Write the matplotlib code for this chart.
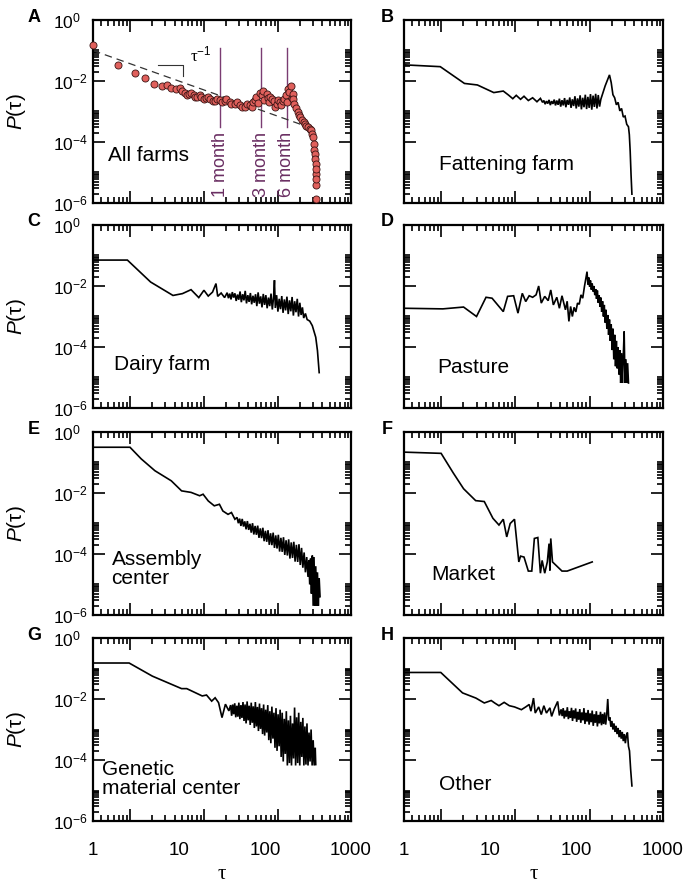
import numpy as np
import matplotlib
matplotlib.use("Agg")
import matplotlib.pyplot as plt
import matplotlib.ticker as mticker
import matplotlib.transforms as mtrans

plt.rcParams["font.family"] = ["Liberation Sans", "DejaVu Sans"]
plt.rcParams["mathtext.fontset"] = "custom"
plt.rcParams["mathtext.rm"] = "Liberation Sans"
plt.rcParams["mathtext.it"] = "Liberation Sans:italic"
plt.rcParams["mathtext.bf"] = "Liberation Sans:bold"

OUT = "out.png"

# values, stored as log10(tau) / log10(P)
A_LOGT = [0.00, 0.29, 0.49, 0.60, 0.71, 0.80, 0.86, 0.91, 0.97, 1.01, 1.07, 1.12, 1.17, 1.21,
          1.26, 1.31, 1.36, 1.42, 1.48, 1.53, 1.59, 1.65, 1.71, 1.77, 1.83, 1.86, 1.90, 1.94,
          1.98, 2.02, 2.06, 2.10, 2.14, 2.17, 2.21, 2.24, 2.27, 2.30, 2.32, 2.34, 2.38, 2.41,
          2.45, 2.48, 2.52, 2.55, 2.57, 2.58, 2.59, 2.59, 2.59, 2.59,
          1.04, 1.09, 1.14, 1.19, 1.24, 1.29, 1.34, 1.39, 1.44, 1.50, 1.55, 1.61, 1.67, 1.73,
          1.79, 1.85, 1.88, 1.92, 1.96, 1.99, 2.03, 2.05, 2.08, 2.12, 2.15, 2.19, 2.22, 2.25,
          2.28, 2.31, 2.33, 2.36, 2.40, 2.43, 2.47, 2.50, 2.53, 2.56, 2.575, 2.585, 2.59, 2.59]
A_LOGP = [-0.82, -1.48, -1.74, -1.89, -2.11, -2.18, -2.14, -2.22, -2.25, -2.22, -2.40, -2.44,
          -2.47, -2.51, -2.53, -2.56, -2.59, -2.64, -2.62, -2.66, -2.69, -2.75, -2.80, -2.84,
          -2.80, -2.69, -2.53, -2.40, -2.33, -2.42, -2.53, -2.64, -2.75, -2.69, -2.64, -2.47,
          -2.25, -2.18, -2.42, -2.75, -3.02, -3.19, -3.35, -3.46, -3.57, -3.74, -4.07, -4.40,
          -4.73, -5.05, -5.42, -5.88,
          -2.33, -2.45, -2.39, -2.52, -2.46, -2.60, -2.52, -2.66, -2.58, -2.70, -2.60, -2.74,
          -2.68, -2.86, -2.76, -2.85, -2.62, -2.72, -2.45, -2.62, -2.55, -2.70, -2.58, -2.85,
          -2.62, -2.80, -2.58, -2.70, -2.35, -2.55, -2.60, -2.90, -3.10, -3.28, -3.40, -3.52,
          -3.62, -3.85, -4.25, -4.55, -4.90, -5.20]

B_LOGT = [0.00, 0.42, 0.70, 0.85, 1.04, 1.15, 1.21, 1.26, 1.30, 1.35, 1.39, 1.44, 1.49, 1.54,
          1.58, 1.605,
          1.620, 1.635, 1.650, 1.665, 1.680, 1.695, 1.710, 1.725, 1.740, 1.755, 1.770, 1.785,
          1.800, 1.815, 1.830, 1.845, 1.860, 1.875, 1.890, 1.905, 1.920, 1.935, 1.950, 1.965,
          1.980, 1.995, 2.010, 2.025, 2.040, 2.055, 2.070, 2.085, 2.100, 2.115, 2.130, 2.145,
          2.160, 2.175, 2.190, 2.205, 2.220, 2.235, 2.250, 2.265,
          2.28, 2.33, 2.38, 2.40, 2.42, 2.44, 2.46, 2.48, 2.50, 2.52, 2.54, 2.56, 2.58, 2.60,
          2.61, 2.62, 2.63, 2.64]
B_LOGP = [-1.47, -1.53, -2.08, -2.13, -2.38, -2.33, -2.46, -2.58, -2.47, -2.60, -2.50, -2.64,
          -2.55, -2.68, -2.57, -2.70,
          -2.64, -2.76, -2.66, -2.74, -2.62, -2.79, -2.66, -2.75, -2.61, -2.80, -2.64, -2.78,
          -2.58, -2.84, -2.63, -2.80, -2.56, -2.86, -2.62, -2.78, -2.54, -2.88, -2.60, -2.82,
          -2.50, -2.90, -2.57, -2.84, -2.47, -2.93, -2.55, -2.86, -2.45, -2.92, -2.52, -2.88,
          -2.43, -2.94, -2.48, -2.85, -2.42, -2.90, -2.46, -2.84,
          -2.60, -2.16, -1.80, -2.05, -2.45, -2.55, -2.78, -2.70, -2.98, -2.90, -3.18, -3.15,
          -3.42, -3.50, -3.76, -4.31, -5.08, -5.71]

C_LOGT = [0.00, 0.40, 0.67, 0.93, 1.04, 1.14, 1.23, 1.29, 1.34, 1.39, 1.43, 1.45, 1.49, 1.53,
          1.560, 1.575, 1.590, 1.605, 1.620, 1.635, 1.650, 1.665, 1.680, 1.695, 1.710, 1.725,
          1.740, 1.755, 1.770, 1.785, 1.800, 1.815, 1.830, 1.845, 1.860, 1.875, 1.890, 1.905,
          1.920, 1.935, 1.950, 1.965, 1.980, 1.995, 2.010, 2.025, 2.040, 2.055, 2.070, 2.085,
          2.100, 2.110, 2.120, 2.135, 2.150, 2.165, 2.180, 2.195, 2.210, 2.225, 2.240, 2.255,
          2.270, 2.285, 2.300, 2.315, 2.330, 2.345, 2.360, 2.375, 2.390, 2.405, 2.420, 2.435,
          2.450, 2.47, 2.49, 2.52, 2.55, 2.59, 2.61, 2.63]
C_LOGP = [-1.15, -1.15, -1.87, -2.31, -2.25, -2.12, -2.38, -2.14, -2.33, -2.20, -1.92, -2.34,
          -2.23, -2.38,
          -2.22, -2.40, -2.25, -2.44, -2.20, -2.38, -2.24, -2.49, -2.28, -2.45, -2.18, -2.53,
          -2.27, -2.47, -2.16, -2.57, -2.30, -2.52, -2.23, -2.60, -2.32, -2.55, -2.27, -2.66,
          -2.21, -2.58, -2.34, -2.70, -2.26, -2.62, -2.30, -2.73, -2.38, -2.66, -2.25, -2.77,
          -2.36, -1.81, -2.72, -2.30, -2.84, -2.42, -2.76, -2.33, -2.88, -2.44, -2.80, -2.35,
          -2.92, -2.47, -2.83, -2.36, -2.97, -2.50, -2.86, -2.42, -3.00, -2.55, -2.95, -2.70,
          -3.05, -2.90, -3.10, -3.15, -3.30, -3.68, -4.12, -4.84]

D_LOGT = [0.00, 0.45, 0.69, 0.84, 0.95, 1.02, 1.15, 1.20, 1.27, 1.32, 1.37, 1.41, 1.45, 1.49,
          1.53, 1.56, 1.59, 1.63, 1.67, 1.70, 1.73, 1.77, 1.80, 1.83, 1.87, 1.89, 1.91, 1.93,
          1.95, 1.97, 1.99, 2.01, 2.03, 2.05, 2.07, 2.09, 2.12, 2.13, 2.14, 2.15, 2.16, 2.17,
          2.18, 2.19, 2.20, 2.21, 2.22, 2.23, 2.24, 2.25, 2.26, 2.27, 2.28, 2.29, 2.30, 2.31,
          2.32, 2.33, 2.34, 2.35, 2.36, 2.37, 2.38, 2.39, 2.40, 2.41, 2.42, 2.43, 2.44, 2.45,
          2.46, 2.47, 2.48, 2.49, 2.50, 2.51, 2.52, 2.53, 2.54, 2.55, 2.56, 2.57, 2.58, 2.59,
          2.60]
D_LOGP = [-2.73, -2.75, -2.69, -3.00, -2.37, -2.40, -2.84, -2.34, -2.32, -2.89, -2.24, -2.51,
          -2.32, -2.37, -2.29, -2.00, -2.56, -2.34, -2.48, -2.13, -2.62, -2.37, -2.73, -2.32,
          -2.78, -2.50, -3.16, -2.67, -3.00, -2.70, -2.85, -2.56, -2.60, -2.29, -2.40, -2.02,
          -1.53, -1.95, -1.72, -2.02, -1.82, -2.12, -1.92, -2.18, -2.00, -2.30, -2.10, -2.42,
          -2.15, -2.55, -2.30, -2.68, -2.38, -2.85, -2.50, -3.00, -2.62, -3.20, -2.78, -3.40,
          -2.95, -3.60, -3.10, -3.80, -3.25, -4.10, -3.40, -4.40, -3.60, -4.63, -3.80, -4.70,
          -4.00, -4.90, -4.10, -5.18, -4.20, -5.18, -4.31, -3.49, -5.18, -4.40, -5.18, -4.53,
          -5.18]

E_LOGT = [0.00, 0.43, 0.56, 0.72, 0.91, 1.03, 1.14, 1.24, 1.28, 1.34, 1.41, 1.47, 1.51, 1.57,
          1.61, 1.65,
          1.675, 1.690, 1.705, 1.720, 1.735, 1.750, 1.765, 1.780, 1.795, 1.810, 1.825, 1.840,
          1.855, 1.870, 1.885, 1.900, 1.915, 1.930, 1.945, 1.960, 1.975, 1.990, 2.005, 2.020,
          2.035, 2.050, 2.065, 2.080, 2.095, 2.110, 2.125, 2.140, 2.155, 2.170, 2.185, 2.200,
          2.215, 2.230, 2.245, 2.260, 2.275, 2.290, 2.305, 2.320, 2.335, 2.350, 2.365, 2.380,
          2.395, 2.410, 2.425, 2.440, 2.455, 2.470, 2.485, 2.500, 2.510, 2.520, 2.530, 2.540,
          2.550, 2.560, 2.570, 2.580, 2.590, 2.600, 2.610, 2.620, 2.630, 2.640]
E_LOGP = [-0.50, -0.50, -0.88, -1.27, -1.60, -1.93, -1.98, -2.09, -2.04, -2.26, -2.42, -2.37,
          -2.59, -2.70, -2.64, -2.86,
          -2.80, -2.99, -2.84, -3.08, -2.85, -3.10, -2.93, -3.19, -2.92, -3.21, -3.01, -3.30,
          -2.99, -3.36, -3.08, -3.37, -3.07, -3.47, -3.16, -3.48, -3.14, -3.58, -3.24, -3.60,
          -3.22, -3.70, -3.32, -3.71, -3.30, -3.80, -3.39, -3.82, -3.37, -3.92, -3.47, -3.93,
          -3.45, -4.03, -3.55, -4.05, -3.52, -4.15, -3.62, -4.13, -3.60, -4.25, -3.70, -4.26,
          -3.68, -4.36, -3.80, -4.45, -3.95, -4.60, -4.10, -4.75, -4.20, -5.00, -4.15, -5.30,
          -4.05, -5.70, -4.10, -5.70, -4.40, -5.70, -4.60, -5.70, -4.80, -5.40]

F_LOGT = [0.00, 0.43, 0.57, 0.69, 0.83, 0.93, 1.03, 1.10, 1.15, 1.19, 1.23, 1.28, 1.33, 1.35,
          1.39, 1.44, 1.48, 1.51, 1.55, 1.58, 1.60, 1.63, 1.66, 1.68, 1.69, 1.70, 1.72, 1.83,
          1.89, 2.18]
F_LOGP = [-0.66, -0.70, -1.34, -1.86, -2.25, -2.28, -2.83, -3.05, -2.86, -3.44, -3.00, -2.86,
          -4.26, -4.07, -4.10, -4.56, -4.56, -3.49, -3.46, -4.63, -4.21, -4.63, -4.26, -3.66,
          -4.54, -3.49, -4.26, -4.56, -4.56, -4.26]

G_LOGT = [0.00, 0.42, 0.69, 1.03, 1.09, 1.27, 1.32, 1.38, 1.42, 1.46, 1.50, 1.54, 1.58,
          1.600, 1.612, 1.624, 1.636, 1.648, 1.660, 1.672, 1.684, 1.696, 1.708, 1.720, 1.732,
          1.744, 1.756, 1.768, 1.780, 1.792, 1.804, 1.816, 1.828, 1.840, 1.852, 1.864, 1.876,
          1.888, 1.900, 1.912, 1.924, 1.936, 1.948, 1.960, 1.972, 1.984, 1.996, 2.008, 2.020,
          2.032, 2.044, 2.056, 2.068, 2.080, 2.092, 2.104, 2.116, 2.128, 2.140, 2.152, 2.164,
          2.176, 2.188, 2.200, 2.212, 2.224, 2.236, 2.248, 2.260, 2.272, 2.284, 2.296, 2.308,
          2.320, 2.332, 2.344, 2.356, 2.368, 2.380, 2.392, 2.404, 2.416, 2.428, 2.440, 2.452,
          2.464, 2.476, 2.488, 2.500, 2.512, 2.524, 2.536, 2.548, 2.560, 2.572, 2.584, 2.590]
G_LOGP = [-0.82, -0.82, -1.25, -1.66, -1.66, -1.90, -1.87, -2.07, -1.96, -2.12, -2.61, -2.17,
          -2.39,
          -2.20, -2.55, -2.18, -2.50, -2.14, -2.60, -2.22, -2.58, -2.12, -2.66, -2.20, -2.62,
          -2.10, -2.72, -2.18, -2.80, -2.08, -2.70, -2.22, -2.85, -2.12, -2.78, -2.24, -2.95,
          -2.10, -2.90, -2.26, -3.05, -2.15, -2.98, -2.30, -3.15, -2.18, -3.20, -2.35, -3.10,
          -2.20, -3.35, -2.40, -3.45, -2.25, -3.30, -2.45, -3.60, -2.30, -3.70, -2.50, -3.55,
          -2.35, -3.90, -2.45, -4.05, -2.65, -3.80, -2.40, -4.18, -2.70, -4.10, -2.55, -4.18,
          -2.80, -3.95, -2.28, -4.18, -2.60, -4.10, -2.45, -4.18, -2.75, -3.90, -2.62, -4.18,
          -2.90, -4.15, -2.80, -4.18, -3.10, -4.05, -3.00, -4.18, -3.35, -4.18, -3.60, -4.15]

H_LOGT = [0.00, 0.426, 0.678, 0.833, 0.93, 1.01, 1.05, 1.10, 1.16, 1.22, 1.28, 1.36, 1.41,
          1.45, 1.47, 1.50, 1.52, 1.56, 1.59, 1.62, 1.65, 1.69, 1.71, 1.74, 1.78, 1.80,
          1.820, 1.832, 1.844, 1.856, 1.868, 1.880, 1.892, 1.904, 1.916, 1.928, 1.940, 1.952,
          1.964, 1.976, 1.988, 2.000, 2.012, 2.024, 2.036, 2.048, 2.060, 2.072, 2.084, 2.096,
          2.108, 2.120, 2.132, 2.144, 2.156, 2.168, 2.180, 2.192, 2.204, 2.216, 2.228, 2.240,
          2.252, 2.264, 2.276, 2.288, 2.300, 2.312, 2.324, 2.336, 2.348, 2.360, 2.372, 2.384,
          2.396, 2.408, 2.420, 2.432, 2.444, 2.456, 2.468, 2.480, 2.492, 2.504, 2.516, 2.528,
          2.540, 2.552, 2.564, 2.576, 2.588, 2.600, 2.612, 2.625, 2.640]
H_LOGP = [-1.13, -1.13, -1.80, -1.97, -2.13, -2.05, -2.13, -2.22, -2.11, -2.22, -2.26, -2.35,
          -2.26, -2.18, -2.40, -1.97, -2.46, -2.26, -2.51, -2.22, -2.46, -2.29, -2.57, -2.33,
          -2.08, -2.54,
          -2.34, -2.56, -2.30, -2.64, -2.38, -2.58, -2.27, -2.66, -2.40, -2.62, -2.29, -2.72,
          -2.37, -2.64, -2.31, -2.75, -2.42, -2.68, -2.33, -2.78, -2.44, -2.70, -2.30, -2.82,
          -2.45, -2.74, -2.36, -2.84, -2.47, -2.76, -2.38, -2.88, -2.50, -2.78, -2.40, -2.90,
          -2.52, -2.80, -2.42, -2.86, -2.49, -2.82, -2.44, -2.84, -2.52, -2.00, -2.70, -2.60,
          -2.90, -2.72, -3.00, -2.80, -3.08, -2.88, -3.15, -2.95, -3.25, -3.02, -3.30, -3.08,
          -3.38, -3.15, -3.45, -3.20, -3.10, -3.55, -3.70, -4.30, -4.85]

PANELS = ["A", "B", "C", "D", "E", "F", "G", "H"]
NAMES = ["All farms", "Fattening farm", "Dairy farm", "Pasture",
         "Assembly\ncenter", "Market", "Genetic\nmaterial center", "Other"]
NAME_POS = [(0.058, 0.26), (0.135, 0.21), (0.08, 0.24), (0.13, 0.22),
            (0.072, 0.25), (0.105, 0.22), (0.034, 0.23), (0.136, 0.20)]
SERIES = [(A_LOGT, A_LOGP), (B_LOGT, B_LOGP), (C_LOGT, C_LOGP), (D_LOGT, D_LOGP),
          (E_LOGT, E_LOGP), (F_LOGT, F_LOGP), (G_LOGT, G_LOGP), (H_LOGT, H_LOGP)]

# guide marks in panel A
SLOPE_T = [1, 365]
SLOPE_P = [0.1, 2.7e-4]
TRI_T = [5.75, 11.2, 11.2]
TRI_P = [0.0347, 0.0347, 0.0141]
MONTH_T = [30, 90, 180]
MONTH_LBL = ["1 month", "3 month", "6 month"]

XLABELS = ["1", "10", "100", "1000"]
XLABEL_V = [1, 10, 100, 1000]

C_DOT = "#e0605c"
C_EDGE = "#3a1414"
C_MONTH = "#7a3c72"
C_MONTH_TXT = "#6a2e62"

W, H = 693, 888
COL_L = [93, 404]
COL_W = [258, 259]
ROW_T = [20, 225, 432, 638]
AX_H = 183


def x_tick_positions():
    # tick marks in the original are offset from the labelled decades
    off, step = 0.43, 0.86
    majors = [off + step * n for n in range(-1, 4)]
    minors = [off + step * (n + np.log10(k)) for n in range(-1, 3) for k in range(2, 10)]
    majors = [10 ** v for v in majors if -0.001 <= v <= 3.02]
    minors = [10 ** v for v in minors if 0 <= v <= 3]
    return majors, minors


def style(ax, row, col):
    ax.set_xscale("log")
    ax.set_yscale("log")
    ax.set_xlim(1, 1000)
    ax.set_ylim(1e-6, 1)
    for s in ax.spines.values():
        s.set_linewidth(1.6)
    xmaj, xmin = x_tick_positions()
    ax.xaxis.set_major_locator(mticker.FixedLocator(xmaj))
    ax.xaxis.set_minor_locator(mticker.FixedLocator(xmin))
    ax.xaxis.set_major_formatter(mticker.NullFormatter())
    ax.xaxis.set_minor_formatter(mticker.NullFormatter())
    ymaj = [1e-6, 1e-4, 1e-2, 1]
    ymin = [k * 10.0 ** e for e in (-6, -4, -2) for k in range(2, 11)]
    ax.yaxis.set_major_locator(mticker.FixedLocator(ymaj))
    ax.yaxis.set_minor_locator(mticker.FixedLocator(ymin))
    ax.yaxis.set_minor_formatter(mticker.NullFormatter())
    ax.tick_params(which="both", direction="in", top=True, right=True, width=1.2)
    ax.tick_params(which="major", length=8.5)
    ax.tick_params(which="minor", length=4.5)
    if col == 0:
        ax.yaxis.set_major_formatter(mticker.FixedFormatter(
            [r"$10^{-6}$", r"$10^{-4}$", r"$10^{-2}$", r"$10^{0}$"]))
        ax.tick_params(axis="y", labelsize=12.5, pad=29)
        for lbl in ax.get_yticklabels():
            lbl.set_horizontalalignment("left")
        ax.set_ylabel(r"$\mathit{P}$(τ)", fontsize=15)
        ax.yaxis.set_label_coords(-0.25, 0.5)
    else:
        ax.yaxis.set_major_formatter(mticker.NullFormatter())
    if row == 3:
        tr = mtrans.blended_transform_factory(ax.transData, ax.transAxes)
        for v, t in zip(XLABEL_V, XLABELS):
            ax.text(v, -0.115, t, transform=tr, ha="center", va="top", fontsize=13.5)
        ax.text(0.5, -0.29, "τ", transform=ax.transAxes, ha="center", va="center",
                fontsize=15, family=["Liberation Serif", "DejaVu Serif"])


def main():
    fig = plt.figure(figsize=(W / 100, H / 100), dpi=100)
    for i, (letter, name) in enumerate(zip(PANELS, NAMES)):
        row, col = divmod(i, 2)
        rect = [COL_L[col] / W, 1 - (ROW_T[row] + AX_H) / H, COL_W[col] / W, AX_H / H]
        ax = fig.add_axes(rect)
        style(ax, row, col)
        logt, logp = SERIES[i]
        t = np.power(10.0, logt)
        p = np.power(10.0, logp)
        if letter == "A":
            ax.plot(SLOPE_T, SLOPE_P, ls=(0, (6, 4)), color="#333333", lw=0.9, zorder=2)
            ax.plot(TRI_T, TRI_P, color="#333333", lw=0.8, zorder=2)
            ax.text(13.5, 0.07, r"τ$^{-1}$", fontsize=12, ha="left", va="center",
                    family=["Liberation Serif", "DejaVu Serif"])
            for mt, ml in zip(MONTH_T, MONTH_LBL):
                ax.plot([mt, mt], [0.12, 3.2e-4], color=C_MONTH, lw=1.0, zorder=1)
                ax.text(mt, 1.6e-6, ml, rotation=90, ha="center", va="bottom",
                        fontsize=13, color=C_MONTH_TXT)
            order = np.argsort(t)
            ax.scatter(t[order], p[order], s=26, color=C_DOT, edgecolors=C_EDGE,
                       linewidths=0.6, zorder=3, clip_on=False)
        else:
            ax.plot(t, p, color="black", lw=1.2, solid_joinstyle="miter")
        nx, ny = NAME_POS[i]
        ax.text(nx, ny, name, transform=ax.transAxes, ha="left", va="center",
                fontsize=15, linespacing=1.0)
        lx = (34 - COL_L[col]) / COL_W[col] if col == 0 else (387 - COL_L[col]) / COL_W[col]
        ax.text(lx, 1 + 3 / AX_H, letter, transform=ax.transAxes, ha="center", va="center",
                fontsize=13, fontweight="bold")
    fig.savefig(OUT, dpi=100)


if __name__ == "__main__":
    main()
